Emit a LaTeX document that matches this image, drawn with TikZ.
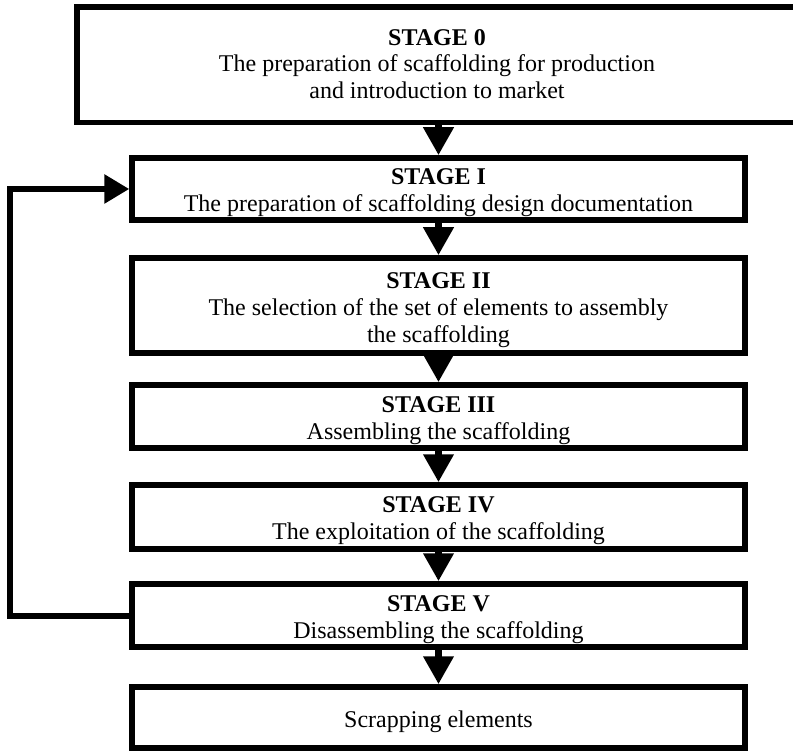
\documentclass[tikz,border=0pt]{standalone}
\usepackage{fontspec}
\setmainfont{Liberation Serif}
\usetikzlibrary{arrows.meta}
\tikzset{
  stagebox/.style={draw=black, line width=5.5pt, fill=none, inner sep=0pt,
    minimum width=613pt},
  stagetext/.style={align=center, inner sep=0pt},
  flow/.style={line width=7pt, -{Triangle[width=29pt, length=28pt]}},
  loopline/.style={line width=6pt, -{Triangle[width=28pt, length=25pt]}},
}
\begin{document}
\begin{tikzpicture}[x=1pt, y=-1pt, font=\fontsize{24}{26.8}\selectfont]
  \useasboundingbox (0,0) rectangle (793,751);
  \fill[white] (0,0) rectangle (793,751);

  % stage 0: wide frame running off the right edge, text centred on the column
  \node[draw=black, line width=5.5pt, inner sep=0pt, anchor=north west,
        minimum width=780pt, minimum height=115.5pt] (s0frame) at (74.25,4.25) {};
  \node[stagetext] (t0) at (437,64)
    {\textbf{STAGE 0}\\The preparation of scaffolding for production\\and introduction to market};

  % stage column: frames
  \node[stagebox, minimum height=62pt] (s1) at (438.5,189) {};
  \node[stagebox, minimum height=95pt] (s2) at (438.5,305.5) {};
  \node[stagebox, minimum height=63pt] (s3) at (438.5,416.5) {};
  \node[stagebox, minimum height=64pt] (s4) at (438.5,517) {};
  \node[stagebox, minimum height=63pt] (s5) at (438.5,615.5) {};
  \node[stagebox, minimum height=61pt] (s6) at (438.5,717.5) {};

  % stage column: captions, set slightly below each frame's centre
  \node[stagetext] (t1) at ([yshift=-3.5pt]s1.center)
    {\textbf{STAGE I}\\The preparation of scaffolding design documentation};
  \node[stagetext] (t2) at ([yshift=-4.5pt]s2.center)
    {\textbf{STAGE II}\\The selection of the set of elements to assembly\\the scaffolding};
  \node[stagetext] (t3) at ([yshift=-4pt]s3.center)
    {\textbf{STAGE III}\\Assembling the scaffolding};
  \node[stagetext] (t4) at ([yshift=-4pt]s4.center)
    {\textbf{STAGE IV}\\The exploitation of the scaffolding};
  \node[stagetext] (t5) at ([yshift=-4pt]s5.center)
    {\textbf{STAGE V}\\Disassembling the scaffolding};
  \node[stagetext] (t6) at ([yshift=-4.5pt]s6.center)
    {Scrapping elements};

  % downward flow
  \draw[flow] (s0frame.south -| s1.north) -- (s1.north);
  \draw[flow] (s1.south) -- (s2.north);
  \draw[flow] (s2.south) -- (s3.north);
  \draw[flow] (s3.south) -- (s4.north);
  \draw[flow] (s4.south) -- (s5.north);
  \draw[flow] (s5.south) -- (s6.north);

  % return loop from stage V back to stage I
  \coordinate (loop) at (10,400);
  \draw[loopline] (s5.west) -- (s5.west -| loop) |- (s1.west);
\end{tikzpicture}
\end{document}
